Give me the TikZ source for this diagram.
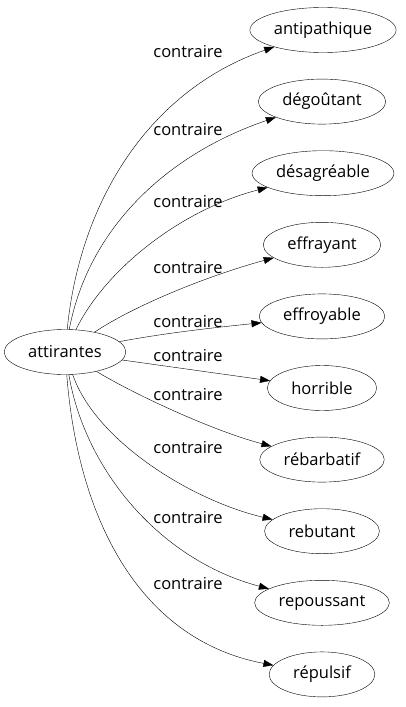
\documentclass[tikz,border=0pt]{standalone}
\usepackage{fontspec}
\setmainfont{Open Sans}
\usetikzlibrary{shapes.geometric,arrows.meta}

\begin{document}
\fontsize{16.5}{18}\selectfont
\begin{tikzpicture}[x=1pt, y=-1pt, baseline=0cm,
  mot/.style={draw, ellipse, minimum height=45pt, inner sep=0pt},
  lien/.style={-{Triangle[length=10pt,width=7pt]}},
  rel/.style={inner sep=1pt}]
  \useasboundingbox (0,0) rectangle (406,707);
  % Nodes
  \node[mot, minimum width={width("attirantes")+48}] (Attirantes) at (65,352) {attirantes};
  \node[mot, minimum width={width("antipathique")+48}] (Antipathique) at (323,30) {antipathique};
  \node[mot, minimum width={width("dégoûtant")+48}] (Degoutant) at (322,101.6) {dégoûtant};
  \node[mot, minimum width={width("désagréable")+48}] (Desagreable) at (323,173.2) {désagréable};
  \node[mot, minimum width={width("effrayant")+48}] (Effrayant) at (322,244.8) {effrayant};
  \node[mot, minimum width={width("effroyable")+48}] (Effroyable) at (322,316.4) {effroyable};
  \node[mot, minimum width={width("horrible")+48}] (Horrible) at (322,388) {horrible};
  \node[mot, minimum width={width("rébarbatif")+48}] (Rebarbatif) at (322,459.6) {rébarbatif};
  \node[mot, minimum width={width("rebutant")+48}] (Rebutant) at (322,531.2) {rebutant};
  \node[mot, minimum width={width("repoussant")+48}] (Repoussant) at (322,602.8) {repoussant};
  \node[mot, minimum width={width("répulsif")+48}] (Repulsif) at (322,674.4) {répulsif};
  % Edges
  \draw[lien] (Attirantes) .. controls (80,200) and (150,90) .. (Antipathique) node[rel] at (188,52) {contraire};
  \draw[lien] (Attirantes) .. controls (88,230) and (165,155) .. (Degoutant) node[rel] at (188,130) {contraire};
  \draw[lien] (Attirantes) .. controls (105,270) and (180,210) .. (Desagreable) node[rel] at (188,202) {contraire};
  \draw[lien] (Attirantes) .. controls (135,305) and (210,275) .. (Effrayant) node[rel] at (188,268) {contraire};
  \draw[lien] (Attirantes) .. controls (170,332) and (230,326) .. (Effroyable) node[rel] at (188,322) {contraire};
  \draw[lien] (Attirantes) -- (Horrible) node[rel] at (188,356) {contraire};
  \draw[lien] (Attirantes) .. controls (130,392) and (210,430) .. (Rebarbatif) node[rel] at (188,395) {contraire};
  \draw[lien] (Attirantes) .. controls (95,440) and (190,500) .. (Rebutant) node[rel] at (188,448) {contraire};
  \draw[lien] (Attirantes) .. controls (85,470) and (160,560) .. (Repoussant) node[rel] at (188,518) {contraire};
  \draw[lien] (Attirantes) .. controls (78,520) and (140,640) .. (Repulsif) node[rel] at (188,584) {contraire};
\end{tikzpicture}
\end{document}
